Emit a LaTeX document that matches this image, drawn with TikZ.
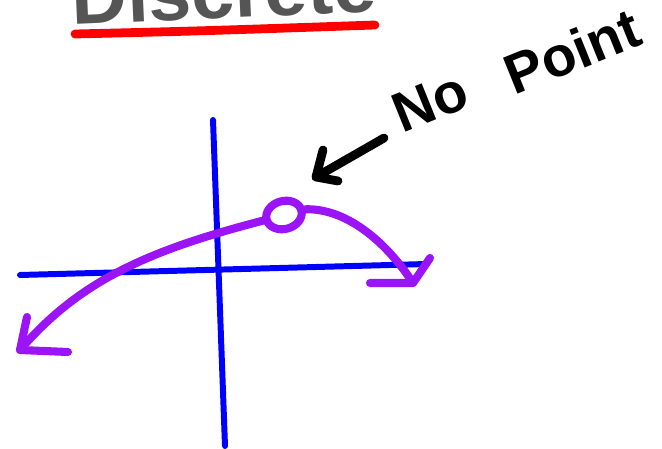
\documentclass[tikz,border=0pt]{standalone}
\usepackage{fontspec}
\setmainfont{Liberation Sans}
\usetikzlibrary{shapes.geometric}
\definecolor{markgray}{RGB}{85,85,85}
\definecolor{markpurple}{RGB}{155,20,245}
\tikzset{
  marker/.style={line cap=round, line join=round},
  axisline/.style={marker, blue, line width=3.4pt},
  curveline/.style={marker, markpurple, line width=4.6pt},
  pointer/.style={marker, black, line width=5pt},
  handtext/.style={rotate=22, inner sep=0pt, font=\fontsize{32}{36}\selectfont\bfseries},
}

\begin{document}
\begin{tikzpicture}[x=0.02cm, y=-0.02cm]
\useasboundingbox (0,0) rectangle (662,449);
\clip (0,0) rectangle (662,449);

% Title
\node[anchor=base west, text=markgray, inner sep=0pt, rotate=2.5,
  font=\fontsize{44}{50}\selectfont\bfseries] (title) at (72,25) {Discrete};
\draw[marker, red, line width=5pt] (75,34) .. controls (200,31) .. (375,25);

% Axes
\coordinate (xleft) at (20,275);
\coordinate (xright) at (427,264);
\coordinate (ytop) at (213,120);
\coordinate (ybot) at (225,446);
\draw[axisline] (xleft) -- (xright);
\draw[axisline] (ytop) -- (ybot);

% Curve with the hole
\node[ellipse, draw=markpurple, line width=4.6pt, rotate=15, inner sep=0pt,
  minimum width=0.72cm, minimum height=0.56cm] (hole) at (284,215) {};
\coordinate (ltip) at (20,350);
\coordinate (rtip) at (413,283);
\draw[curveline] (ltip) .. controls (80,280) and (150,250) .. (hole.west);
\draw[curveline] (hole.east) .. controls (345,208) and (385,240) .. (rtip);

% Arrow heads
\draw[curveline] (68,352) -- (ltip) -- (27,317);
\draw[curveline] (370,283) -- (rtip) -- (430,258);

% Label
\node[handtext] (no) at (430,102) {No};
\node[handtext] (point) at (572,51) {Point};
\coordinate (ptail) at (384,138);
\coordinate (ptip) at (316,177);
\draw[pointer] (ptail) -- (ptip);
\draw[pointer] (323,150) -- (ptip) -- (338,181);

\end{tikzpicture}
\end{document}
